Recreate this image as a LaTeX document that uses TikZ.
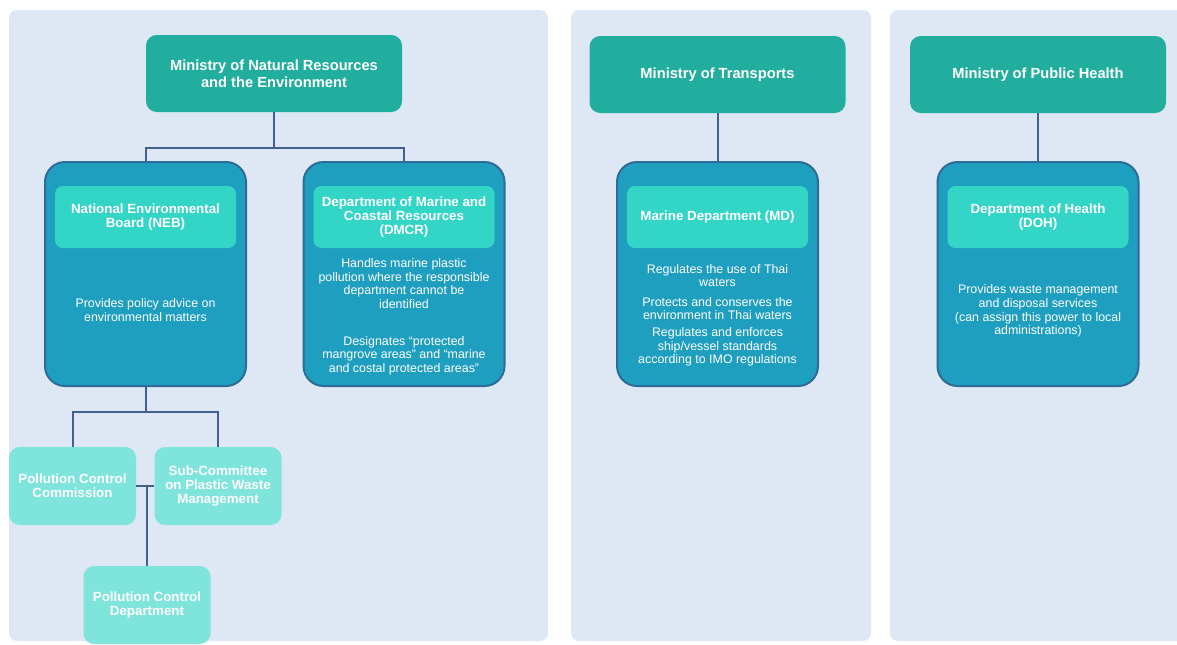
\documentclass[tikz,border=0pt]{standalone}
\usepackage{fontspec}
\setmainfont{Liberation Sans}
\definecolor{orgpanel}{HTML}{DEE8F4}
\definecolor{orgteal}{HTML}{22AE9E}
\definecolor{orgblue}{HTML}{1F9FBF}
\definecolor{orgblueline}{HTML}{2E6B97}
\definecolor{orgaqua}{HTML}{33D6C6}
\definecolor{orgmint}{HTML}{7EE4DC}
\definecolor{orglink}{HTML}{40608F}
\tikzset{
  orgpanelbox/.style={fill=orgpanel, rounded corners=6pt},
  orgtop/.style={
    fill=orgteal, text=white, rounded corners=8pt, align=center,
    minimum width=192pt, minimum height=57.75pt,
    font=\bfseries\fontsize{11}{12.5}\selectfont},
  orgdept/.style={
    draw=orgblueline, fill=orgblue, line width=1.5pt, rounded corners=15pt,
    minimum width=150.75pt, minimum height=168pt},
  orgname/.style={
    fill=orgaqua, text=white, rounded corners=6pt, align=center,
    minimum width=135.75pt, minimum height=46.5pt, inner sep=2pt,
    font=\bfseries\fontsize{10}{10.5}\selectfont},
  orgsub/.style={
    fill=orgmint, text=white, rounded corners=8pt, align=center,
    minimum width=95.25pt, minimum height=58.5pt, inner sep=2pt,
    font=\bfseries\fontsize{10}{10.5}\selectfont},
  orgtext/.style={
    text=white, align=center, inner sep=1pt,
    font=\fontsize{9.3}{10.2}\selectfont},
  orgline/.style={draw=orglink, line width=1.5pt},
}

\begin{document}
\begin{tikzpicture}[x=0.75pt, y=-0.75pt]
\useasboundingbox (0,0) rectangle (1177,644);
\clip (0,0) rectangle (1177,644);

% Background panels.
\fill[orgpanelbox] (9,10) rectangle (548,641);
\fill[orgpanelbox] (571,10) rectangle (871,641);
\fill[orgpanelbox] (890,10) rectangle (1195,641);

% Ministries.
\node[orgtop] (mnre) at (274,73.5)
  {Ministry of Natural Resources\\and the Environment};
\node[orgtop] (mot) at (717.5,74.5) {Ministry of Transports};
\node[orgtop] (moph) at (1038,74.5) {Ministry of Public Health};

% National Environmental Board.
\node[orgdept] (neb) at (145.5,274) {};
\node[orgname] (nebname) at (145.5,217)
  {National Environmental\\Board (NEB)};
\node[orgtext] (nebtext) at (145.5,310)
  {Provides policy advice on\\environmental matters};

% Department of Marine and Coastal Resources.
\node[orgdept] (dmcr) at (404,274) {};
\node[orgname] (dmcrname) at (404,217)
  {Department of Marine and\\Coastal Resources\\(DMCR)};
\node[orgtext] (dmcrtext) at (404,283.5)
  {Handles marine plastic\\pollution where the responsible\\department cannot be\\identified};
\node[orgtext] (dmcrzone) at (404,355.5)
  {Designates “protected\\mangrove areas” and “marine\\and costal protected areas”};

% Marine Department.
\node[orgdept] (md) at (717.5,274) {};
\node[orgname] (mdname) at (717.5,217) {Marine Department (MD)};
\node[orgtext] (mdwaters) at (717.5,275.5)
  {Regulates the use of Thai\\waters};
\node[orgtext] (mdprotect) at (717.5,308.5)
  {Protects and conserves the\\environment in Thai waters};
\node[orgtext] (mdships) at (717.5,347)
  {Regulates and enforces\\ship/vessel standards\\according to IMO regulations};

% Department of Health.
\node[orgdept] (doh) at (1038,274) {};
\node[orgname] (dohname) at (1038,217) {Department of Health\\(DOH)};
\node[orgtext] (dohtext) at (1038,311)
  {Provides waste management\\and disposal services\\(can assign this power to local\\administrations)};

% Bodies under the NEB.
\node[orgsub] (pcc) at (72.5,486) {Pollution Control\\Commission};
\node[orgsub] (subc) at (218,486)
  {Sub-Committee\\on Plastic Waste\\Management};
\node[orgsub] (pcd) at (147,605) {Pollution Control\\Department};

% Connectors.
\coordinate (mnrefork) at (274,148);
\draw[orgline] (mnre.south) -- (mnrefork) -| (neb.north);
\draw[orgline] (mnrefork) -| (dmcr.north);
\draw[orgline] (mot.south) -- (md.north);
\draw[orgline] (moph.south) -- (doh.north);
\coordinate (nebfork) at (145.5,412);
\draw[orgline] (neb.south) -- (nebfork);
\draw[orgline] (pcc.north) |- (nebfork) -| (subc.north);
\draw[orgline] (pcc.east) -- (subc.west);
\draw[orgline] (pcd.north) -- (pcd.north |- pcc.east);

\end{tikzpicture}
\end{document}
